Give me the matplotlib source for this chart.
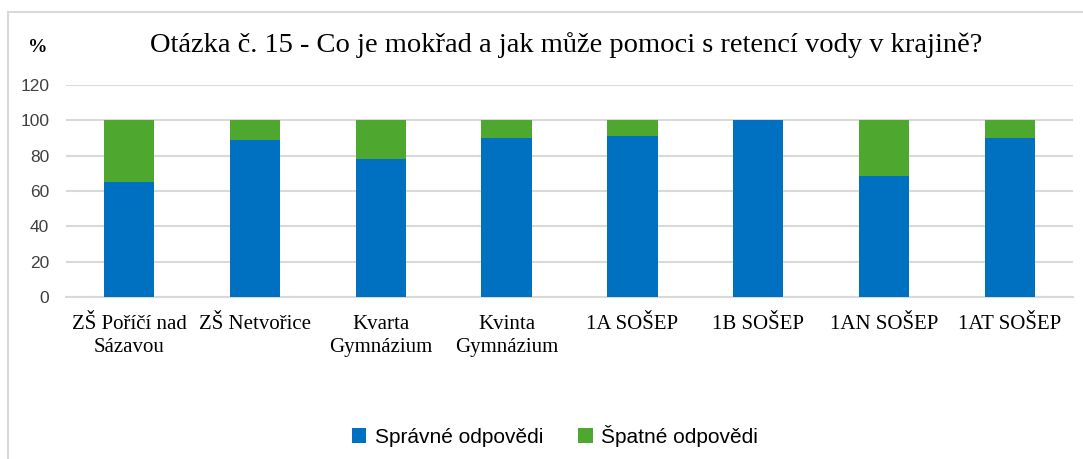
import matplotlib.pyplot as plt
from matplotlib.patches import Rectangle

categories = ["ZŠ Poříčí nad\nSázavou", "ZŠ Netvořice", "Kvarta\nGymnázium", "Kvinta\nGymnázium",
              "1A SOŠEP", "1B SOŠEP", "1AN SOŠEP", "1AT SOŠEP"]
spravne = [65, 89, 78, 90, 91, 100, 68.5, 90]
spatne = [100 - v for v in spravne]

blue = "#0070C0"
green = "#4EA72E"

fig = plt.figure(figsize=(10.83, 4.59), dpi=100)
ax = fig.add_axes([66 / 1083, 1 - 297 / 459, (1073 - 66) / 1083, 212 / 459])

x = range(len(categories))
ax.bar(x, spravne, width=0.4, color=blue, label="Správné odpovědi", zorder=3)
ax.bar(x, spatne, width=0.4, bottom=spravne, color=green, label="Špatné odpovědi", zorder=3)

ax.set_xlim(-0.5, len(categories) - 0.5)
ax.set_ylim(0, 120)
ax.set_yticks(range(0, 121, 20))
ax.grid(axis="y", color="#D9D9D9", linewidth=1.5, zorder=0)
for s in ["top", "right", "left"]:
    ax.spines[s].set_visible(False)
ax.spines["bottom"].set_color("#D9D9D9")
ax.spines["bottom"].set_linewidth(1.5)
ax.tick_params(length=0)
ax.tick_params(axis="y", labelsize=12.5, labelcolor="#404040", pad=12)
ax.set_xticks(list(x))
ax.set_xticklabels(categories, fontfamily="Liberation Serif", fontsize=15, linespacing=1.25)
ax.tick_params(axis="x", pad=13)
for lbl in ax.get_yticklabels():
    lbl.set_fontfamily("Liberation Sans")

fig.text(566 / 1083, 1 - 45 / 459, "Otázka č. 15 - Co je mokřad a jak může pomoci s retencí vody v krajině?",
         ha="center", va="center", fontfamily="Liberation Serif", fontsize=20.5)
fig.text(38 / 1083, 1 - 48 / 459, "%", ha="center", va="center", fontfamily="Liberation Serif",
         fontsize=14, fontweight="bold")

fig.legend(loc="center", bbox_to_anchor=(555 / 1083, 1 - 436 / 459), ncol=2, frameon=False,
           prop={"family": "Liberation Sans", "size": 15}, handlelength=0.7, handleheight=0.7,
           columnspacing=1.7, handletextpad=0.4)

fig.add_artist(Rectangle((8 / 1083, -0.1), 1.2, 1 - 12 / 459 + 0.1, transform=fig.transFigure,
                         fill=False, edgecolor="#D9D9D9", linewidth=1.5))

fig.savefig("out.png", dpi=100)
